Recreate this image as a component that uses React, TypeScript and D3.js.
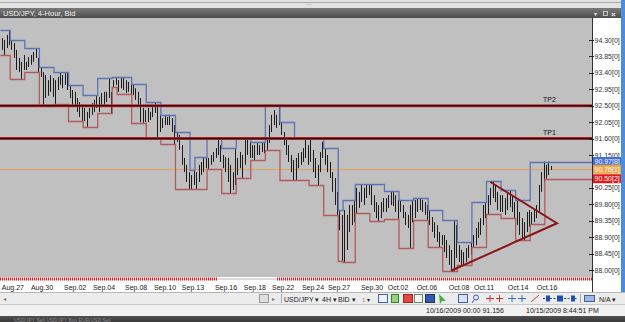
import React from 'react';
import * as d3 from 'd3';

// ---- data ----
const daySizes = [4,6,6,6,6,6,6,6,2,6,6,6,6,6,2,5,6,6,6,6,6,6,6,6,6,2,5,6,6,6,6,6,6,6,6,6,6,6,6,6,3];

const barHigh = [
  94.35,94.30,94.44,94.57,
  94.30,94.22,94.03,93.81,93.70,93.89,
  93.70,93.83,93.89,93.97,94.08,93.81,
  93.56,93.42,93.34,93.20,93.34,93.26,
  93.20,93.29,93.40,93.34,93.42,93.40,
  93.07,92.93,92.88,92.71,92.60,92.52,
  92.44,92.33,92.44,92.57,92.66,92.79,
  92.74,92.85,92.88,92.88,93.26,92.88,
  93.20,93.29,
  93.20,93.29,93.26,93.20,93.15,93.12,
  93.09,92.98,92.88,92.71,92.44,92.38,
  92.44,92.33,92.46,92.60,92.52,92.25,
  92.16,92.25,92.19,92.25,92.16,91.97,
  91.78,91.70,91.42,91.07,90.88,90.68,
  90.60,90.74,
  90.68,90.88,90.96,91.07,91.09,
  91.07,91.15,91.23,91.34,91.62,91.42,
  91.15,91.09,91.07,90.88,90.68,91.34,
  91.07,91.23,91.15,91.56,91.62,91.51,
  91.42,91.42,91.48,91.42,91.51,91.48,
  91.62,91.97,92.25,92.38,92.25,92.52,
  92.05,91.78,91.62,91.42,91.15,91.01,
  91.07,91.20,91.23,91.34,91.62,91.42,
  91.62,91.29,91.07,90.88,91.23,91.51,
  91.34,91.15,90.96,90.68,90.52,90.14,
  89.64,89.51,
  89.64,89.51,89.78,89.78,89.92,
  90.25,90.14,90.33,90.25,90.35,90.35,
  90.35,90.05,89.86,89.78,89.86,89.97,
  89.97,90.05,90.16,90.14,90.05,89.92,
  89.92,89.78,89.59,89.51,89.78,89.92,
  89.92,89.97,89.97,89.92,89.86,89.78,
  89.64,89.45,89.31,89.23,89.04,88.96,
  88.96,88.82,88.68,88.55,89.37,89.23,
  88.68,88.55,88.49,88.60,88.68,88.77,
  88.96,89.15,89.31,89.42,89.78,89.86,
  90.05,90.25,90.44,90.33,90.14,90.05,
  90.05,89.97,90.11,90.19,90.05,89.86,
  89.92,89.59,89.42,89.31,89.59,89.64,
  89.59,89.64,89.78,90.33,90.68,90.97,
  90.88,90.97,90.85,
];

const barLow = [
  94.03,93.89,94.08,94.16,
  94.03,93.81,93.48,93.42,93.23,93.48,
  93.48,93.56,93.62,93.70,93.81,93.42,
  93.29,92.52,92.71,92.77,92.88,92.74,
  92.55,92.93,93.07,92.98,93.07,92.93,
  92.71,92.52,92.46,92.33,92.19,92.08,
  92.08,91.92,92.16,92.25,92.33,92.44,
  92.33,92.46,92.52,92.60,92.71,92.30,
  93.01,93.07,
  92.88,92.98,92.93,92.85,92.88,92.82,
  92.79,92.66,92.52,92.05,92.03,92.05,
  92.05,92.11,92.19,92.30,91.62,91.78,
  91.89,91.97,91.97,91.97,91.78,91.45,
  91.51,91.29,90.88,90.68,90.41,90.22,
  90.22,90.33,
  90.22,90.41,90.60,90.68,90.79,
  90.77,90.88,90.96,91.07,91.15,90.96,
  90.79,90.68,90.41,90.11,90.19,90.33,
  90.60,90.79,90.52,90.88,91.15,91.07,
  91.07,91.01,91.15,91.15,91.23,91.20,
  91.29,91.48,91.78,91.97,91.89,91.97,
  91.70,91.42,91.15,90.96,90.68,90.46,
  90.46,90.79,90.88,90.96,91.07,90.88,
  90.96,90.68,90.52,90.33,90.68,91.07,
  90.88,90.68,90.52,90.14,89.78,89.51,
  89.09,88.25,
  88.22,88.55,89.04,89.23,89.31,
  89.56,89.70,89.86,89.78,89.97,90.05,
  89.78,89.59,89.42,89.34,89.42,89.59,
  89.59,89.70,89.78,89.75,89.59,89.40,
  89.59,89.42,89.23,89.15,88.60,89.31,
  89.42,89.59,89.64,89.59,89.51,89.37,
  89.23,89.04,88.88,88.77,88.63,88.68,
  88.49,88.33,88.14,88.00,87.97,88.33,
  88.22,88.14,88.14,88.22,88.33,88.41,
  88.63,88.68,88.88,88.96,89.23,89.42,
  89.53,89.78,89.97,89.86,89.64,89.59,
  89.59,89.51,89.64,89.72,89.59,89.42,
  89.23,88.96,88.88,88.82,89.04,89.18,
  89.26,89.31,89.42,89.59,90.14,90.41,
  90.50,90.60,90.74,
];

const dateLabels = ['Aug.27','Aug.30','Sep.02','Sep.04','Sep.08','Sep.10','Sep.13','Sep.16','Sep.18','Sep.22','Sep.24','Sep.27','Sep.30','Oct.02','Oct.06','Oct.08','Oct.11','Oct.14','Oct.16'];
const dateLabelBars = [5.1,17.1,30.7,42.6,55.8,67.7,79.2,92.8,104.7,116.3,128.6,139.3,152.9,163.6,175.5,188.7,199.0,213.0,224.9];

const priceTicks = [94.30,93.85,93.40,92.95,92.50,92.05,91.60,91.15,90.25,89.80,89.35,88.90,88.45,88.00];

const targetLevels = [92.50, 91.60];
const targetNames = ['TP2', 'TP1'];
const currentPrice = 90.76;

const markerValues = [90.97, 90.76, 90.50];
const markerLabels = ['90.97[8]', '90.76[1]', '90.50[2]'];

// triangle: lower-left -> apex -> upper-left
const triangleBars = [185.4, 229.0, 201.6];
const trianglePrices = [87.98, 89.28, 90.41];

// ---- styles ----
const FONT = '"Liberation Sans", Arial, sans-serif';
const markerColors = ['#3c6fd8', '#f0a448', '#e01a1a'];
const PLOT_R = 592, PLOT_T = 18, PLOT_B = 277;

export default function App() {
  const n = barHigh.length;
  const x = d3.scaleLinear().domain([0, n]).range([0.5, 0.5 + n * 2.43]);
  const y = d3.scaleLinear().domain([88.0, 94.3]).range([270, 40]);

  const days: { s: number; e: number; hi: number; lo: number }[] = [];
  let s = 0;
  daySizes.forEach((sz) => {
    const e = s + sz;
    days.push({ s, e, hi: d3.max(barHigh.slice(s, e)) as number, lo: d3.min(barLow.slice(s, e)) as number });
    s = e;
  });
  const step = d3.line<[number, number]>().curve(d3.curveStepAfter);
  const up: [number, number][] = days.map((d) => [x(d.s), Math.round(y(d.hi)) + 0.5]);
  up.push([PLOT_R, Math.round(y(days[days.length - 1].hi)) + 0.5]);
  const lo: [number, number][] = days.map((d) => [x(d.s), Math.round(y(d.lo)) + 0.5]);
  lo.push([PLOT_R, Math.round(y(days[days.length - 1].lo)) + 0.5]);

  const tri = d3.line<number>().x((b) => x(b)).y((_, i) => y(trianglePrices[i]));

  const bx = (i: number) => Math.round(x(i + 0.5)) + 0.5;

  return (
    <svg width={625} height={322} style={{ position: 'fixed', left: 0, top: 0 }} fontFamily={FONT}>
      <defs>
        <clipPath id="plot"><rect x={0} y={PLOT_T} width={PLOT_R} height={PLOT_B - PLOT_T} /></clipPath>
        <linearGradient id="title" x1="0" y1="0" x2="0" y2="1">
          <stop offset="0" stopColor="#7a7a7a" />
          <stop offset="1" stopColor="#4e4e4e" />
        </linearGradient>
        <linearGradient id="bottom" x1="0" y1="0" x2="0" y2="1">
          <stop offset="0" stopColor="#505050" />
          <stop offset="1" stopColor="#3a3a3a" />
        </linearGradient>
      </defs>
      {/* window chrome */}
      <rect x={0} y={0} width={625} height={322} fill="#d6d6d6" />
      <rect x={0} y={0} width={625} height={8} fill="#e2e2e2" />
      <line x1={0} x2={625} y1={2.5} y2={2.5} stroke="#a8a8a8" />
      <text x={306} y={5} fontSize={5} fill="#777">....</text>
      <rect x={0} y={8} width={621} height={10} fill="url(#title)" />
      <text x={3} y={16} fontSize={7.5} fill="#f0f0f0">USD/JPY, 4-Hour, Bid</text>
      <text x={594} y={16} fontSize={6} fill="#e8e8e8">▾</text>
      <rect x={603.5} y={11.5} width={4} height={4} fill="none" stroke="#ddd" strokeWidth={0.8} />
      <text x={611} y={16.5} fontSize={8} fill="#f0f0f0" fontWeight="bold">×</text>

      {/* plot area */}
      <rect x={0} y={PLOT_T} width={PLOT_R} height={PLOT_B - PLOT_T} fill="#c0c0c0" />
      <g clipPath="url(#plot)">
        <line x1={0} x2={PLOT_R} y1={Math.round(y(currentPrice)) + 0.5} y2={Math.round(y(currentPrice)) + 0.5} stroke="#e2a05a" strokeWidth={1} />
        {barHigh.map((h, i) => (
          <line key={i} x1={bx(i)} x2={bx(i)} y1={y(h)} y2={y(barLow[i])} stroke="#1c1c1c" strokeWidth={1} />
        ))}
        <path d={step(up) as string} fill="none" stroke="#5f74b6" strokeWidth={1.3} />
        <path d={step(lo) as string} fill="none" stroke="#b25a5c" strokeWidth={1.3} />
        {targetLevels.map((v, i) => (
          <g key={i}>
            <line x1={0} x2={PLOT_R} y1={y(v)} y2={y(v)} stroke="#b23a3a" strokeWidth={3} />
            <line x1={0} x2={PLOT_R} y1={y(v)} y2={y(v)} stroke="#4a0000" strokeWidth={1.4} />
            <text x={543} y={y(v) - 4} fontSize={7} fill="#111">{targetNames[i]}</text>
          </g>
        ))}
        <path d={tri(triangleBars) as string} fill="none" stroke="#8a1616" strokeWidth={2} />
      </g>

      {/* price axis */}
      <rect x={PLOT_R} y={PLOT_T} width={29} height={274} fill="#ffffff" />
      <line x1={PLOT_R + 0.5} x2={PLOT_R + 0.5} y1={PLOT_T} y2={292} stroke="#303030" />
      {priceTicks.map((v, i) => (
        <g key={i}>
          <line x1={589} x2={594} y1={Math.round(y(v)) + 0.5} y2={Math.round(y(v)) + 0.5} stroke="#222" />
          <text x={594.5} y={y(v) + 2.5} fontSize={7} fill="#333">{v.toFixed(2) + '[0]'}</text>
        </g>
      ))}
      {markerValues.map((v, i) => (
        <g key={i}>
          <rect x={593} y={y(v) - 4.5} width={28} height={9} fill={markerColors[i]} />
          <text x={594.5} y={y(v) + 2.5} fontSize={7} fill="#ffffff">{markerLabels[i]}</text>
        </g>
      ))}
      <rect x={621} y={0} width={4} height={292} fill="#4b8fdc" />

      {/* date axis */}
      <rect x={0} y={277} width={PLOT_R} height={4} fill="#ffffff" />
      <line x1={0} x2={217} y1={279} y2={279} stroke="#d42020" strokeWidth={3} strokeDasharray="1.2,0.8" />
      <line x1={277} x2={PLOT_R} y1={279} y2={279} stroke="#d42020" strokeWidth={3} strokeDasharray="1.2,0.8" />
      <line x1={218} x2={276} y1={279} y2={279} stroke="#888" strokeWidth={0.6} />
      <rect x={0} y={281} width={PLOT_R} height={11} fill="#ffffff" />
      {dateLabels.map((t, i) => (
        <text key={i} x={x(dateLabelBars[i])} y={289.5} fontSize={7} fill="#222" textAnchor="middle">{t}</text>
      ))}

      {/* toolbar */}
      <rect x={0} y={292} width={625} height={13} fill="#ececec" />
      <line x1={0} x2={625} y1={292.5} y2={292.5} stroke="#b8b8b8" />
      <line x1={0} x2={625} y1={304.5} y2={304.5} stroke="#c8c8c8" />
      <text x={3} y={301} fontSize={6} fill="#777">◂</text>
      <rect x={259.5} y={294.5} width={9} height={8} fill="#e0e0e0" stroke="#9a9a9a" />
      <text x={272} y={301} fontSize={6} fill="#777">▸</text>
      <line x1={281.5} x2={281.5} y1={294} y2={303} stroke="#aaa" />
      <text x={284} y={301.5} fontSize={7} fill="#222">USD/JPY ▾</text>
      <text x={322} y={301.5} fontSize={7} fill="#222">4H ▾</text>
      <text x={338} y={301.5} fontSize={7} fill="#222">BID ▾</text>
      <text x={362} y={301.5} fontSize={7} fill="#d02020">↕</text>
      <text x={367} y={301.5} fontSize={6} fill="#222">▾</text>
      <rect x={378.5} y={294.5} width={9} height={8} fill="#eef2ff" stroke="#3a62c0" />
      <rect x={391.5} y={294.5} width={7} height={8} fill="#9ad07a" stroke="#2a8a2a" />
      <rect x={403.5} y={294.5} width={9} height={8} fill="#e04848" stroke="#b02020" />
      <rect x={414.5} y={294.5} width={8} height={8} fill="#f4f4f4" stroke="#6a8a6a" />
      <rect x={425.5} y={294.5} width={9} height={8} fill="#3858b0" stroke="#203070" />
      <path d="M439,294 L446,301 L442,301 L440,304 Z" fill="#40b040" />
      <rect x={458.5} y={294.5} width={9} height={8} fill="#d8e4f4" stroke="#4060a0" />
      <circle cx={476} cy={297.5} r={2.5} fill="none" stroke="#3060c0" />
      <line x1={474} x2={472} y1={300} y2={303} stroke="#3060c0" />
      <path d="M486,298.5 H494 M490,295 V302 M496,298.5 H503 M499.5,295 V302" stroke="#d03030" fill="none" />
      <path d="M508,298.5 H516 M512,295 V302 M518,298.5 H526 M522,295 V302" stroke="#3070d0" fill="none" />
      <path d="M531,302 L539,295" stroke="#c04040" />
      <rect x={546} y={295.5} width={4} height={6} fill="#2050b0" />
      <rect x={557} y={295.5} width={6} height={6} fill="#2050b0" />
      <rect x={571} y={295.5} width={4} height={6} fill="#2050b0" />
      <path d="M543,298.5 H578" stroke="#2050b0" strokeDasharray="2,1.5" />
      <line x1={580.5} x2={580.5} y1={294} y2={303} stroke="#aaa" />
      <rect x={584.5} y={295.5} width={10} height={6} fill="#9fb8e0" stroke="#4060a0" />
      <text x={599} y={301.5} fontSize={7} fill="#222">N/A ▾</text>

      {/* status bar */}
      <rect x={0} y={305} width={625} height={11} fill="#f2f2f2" />
      <text x={426} y={313} fontSize={7} fill="#222">10/16/2009 00:00  91.156</text>
      <text x={526} y={313} fontSize={7} fill="#222">10/15/2009 8:44:51 PM</text>
      <rect x={0} y={316} width={625} height={6} fill="url(#bottom)" />
      <text x={14} y={322} fontSize={5} fill="#8a8a8a">USD/JPY        Sell        USD/JPY        Buy        EUR/USD        Sell</text>
    </svg>
  );
}
